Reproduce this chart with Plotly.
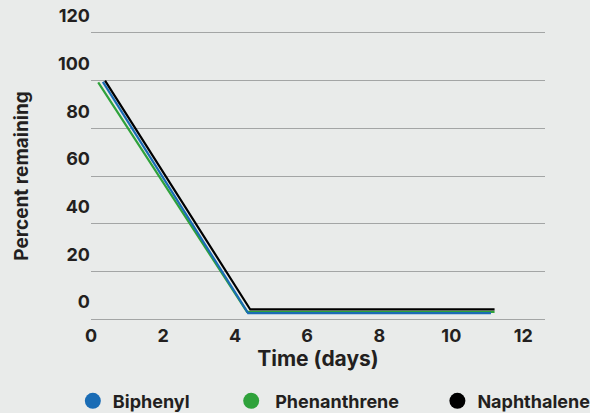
import plotly.graph_objects as go

# Data
series_names = ["Biphenyl", "Phenanthrene", "Naphthalene"]
biphenyl_x = [0.33, 4.36, 11.1]
biphenyl_y = [99.5, 2.5, 2.5]
phenanthrene_x = [0.2, 4.33, 11.2]
phenanthrene_y = [99.3, 3.0, 3.0]
naphthalene_x = [0.39, 4.42, 11.2]
naphthalene_y = [100, 4.0, 4.0]
x_ticks = [0, 2, 4, 6, 8, 10, 12]
y_ticks = [0, 20, 40, 60, 80, 100, 120]

colors = {"Biphenyl": "#1a6cb5", "Phenanthrene": "#2fa23b", "Naphthalene": "#000000"}
FONT = "Inter"
TXT = "#231f20"
BG = "#e9ebea"
GRID = "#a3a5a5"

fig = go.Figure()
data = {
    "Biphenyl": (biphenyl_x, biphenyl_y),
    "Phenanthrene": (phenanthrene_x, phenanthrene_y),
    "Naphthalene": (naphthalene_x, naphthalene_y),
}
# draw order: green bottom, blue, black on top
for name in ["Phenanthrene", "Biphenyl", "Naphthalene"]:
    xs, ys = data[name]
    fig.add_trace(go.Scatter(x=xs, y=ys, mode="lines", name=name,
                             line=dict(color=colors[name], width=2.2),
                             showlegend=False, cliponaxis=False))

legend_ids = ["legend", "legend2", "legend3"]
for name, lid in zip(series_names, legend_ids):
    fig.add_trace(go.Scatter(x=[None], y=[None], mode="markers", name=name,
                             marker=dict(color=colors[name], size=16, symbol="circle"),
                             legend=lid, showlegend=True))

leg_common = dict(orientation="h", yanchor="middle", y=-0.287, xanchor="left",
                  bgcolor="rgba(0,0,0,0)", font=dict(family=FONT, size=18, color=TXT, weight=700),
                  itemsizing="trace")

fig.update_layout(
    width=590, height=413,
    paper_bgcolor=BG, plot_bgcolor=BG,
    margin=dict(l=91, r=45, t=33, b=94, autoexpand=False),
    font=dict(family=FONT, color=TXT),
    legend=dict(x=-0.04, **leg_common),
    legend2=dict(x=0.300, itemwidth=38, **leg_common),
    legend3=dict(x=0.763, **leg_common),
    xaxis=dict(range=[0, 12.6], tickvals=x_ticks, ticktext=[str(v) for v in x_ticks],
               showgrid=False, zeroline=False, showline=True, mirror=True,
               linecolor=GRID, linewidth=1.3,
               tickfont=dict(family=FONT, size=18, color=TXT, weight=700),
               title=dict(text="Time (days)", font=dict(family=FONT, size=21, color=TXT, weight=700),
                          standoff=6)),
    yaxis=dict(range=[0, 120], tickvals=y_ticks, ticktext=[str(v) for v in y_ticks],
               showgrid=True, gridcolor=GRID, gridwidth=1.3, zeroline=False,
               showline=False, ticklabelshift=-17,
               tickfont=dict(family=FONT, size=18, color=TXT, weight=700),
               title=dict(text="Percent remaining", font=dict(family=FONT, size=19, color=TXT, weight=700),
                          standoff=24)),
)

fig.write_html("out.html", config={"displayModeBar": False},
               post_script="document.body.style.margin='0';document.body.style.overflow='hidden';")
